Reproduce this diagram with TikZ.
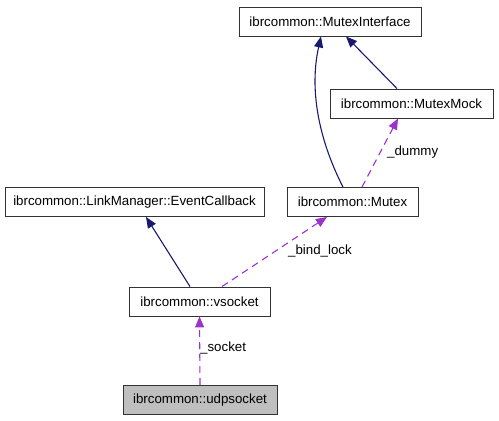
\documentclass[tikz,border=0pt]{standalone}
\usepackage{fontspec}
\setmainfont{Liberation Sans}
\usepackage{tikz}
\usetikzlibrary{arrows.meta}
\definecolor{inhblue}{HTML}{191970}
\definecolor{usepurple}{HTML}{9A32CD}

\begin{document}
\begin{tikzpicture}[x=1pt,y=-1pt, every node/.style={font=\fontsize{13.3}{15}\selectfont}]
\tikzset{cls/.style = {shape=rectangle,draw=black!80,line width=0.9pt,minimum height=29pt,inner sep=0pt}}
\tikzset{inh/.style = {inhblue, line width=1.1pt, -{Triangle[length=11pt,width=9pt]}}}
\tikzset{use/.style = {usepurple, line width=1.1pt, dash pattern=on 7pt off 5pt, -{Triangle[length=11pt,width=9pt]}}}
\tikzset{lbl/.style = {anchor=west,inner sep=0pt}}
\useasboundingbox (0,0) rectangle (499,421);
% classes
\node[cls,minimum width=182pt] (iface) at (330,21.5) {ibrcommon::MutexInterface};
\node[cls,minimum width=163pt] (mock) at (411.5,103.5) {ibrcommon::MutexMock};
\node[cls,minimum width=259pt] (callback) at (134.5,202) {ibrcommon::LinkManager::EventCallback};
\node[cls,minimum width=131pt] (mutex) at (352.5,202) {ibrcommon::Mutex};
\node[cls,minimum width=141pt] (vsocket) at (199.5,301.5) {ibrcommon::vsocket};
\node[cls,minimum width=154pt,fill=black!25] (udp) at (200,400) {ibrcommon::udpsocket};

% labels
\node[lbl] (dummy) at (387,152) {\_dummy};
\node[lbl] (bindlock) at (288,251) {\_bind\_lock};
\node[lbl] (socket) at (200,348) {\_socket};

% edges
\draw[inh] ([xshift=-9.5pt]mutex.north) .. controls (319,140) and (309,90) .. ([xshift=-9pt]iface.south);
\draw[inh] ([xshift=-14.5pt]mock.north) -- ([xshift=16pt]iface.south);
\draw[inh] ([xshift=-9.5pt]vsocket.north) -- ([xshift=11.5pt]callback.south);
\draw[use] ([xshift=22.5pt]vsocket.north) -- ([xshift=-25.5pt]mutex.south);
\draw[use] ([xshift=9.5pt]mutex.north) -- ([xshift=-13.5pt]mock.south);
\draw[use] (udp.north) -- (vsocket.south);

\end{tikzpicture}
\end{document}
